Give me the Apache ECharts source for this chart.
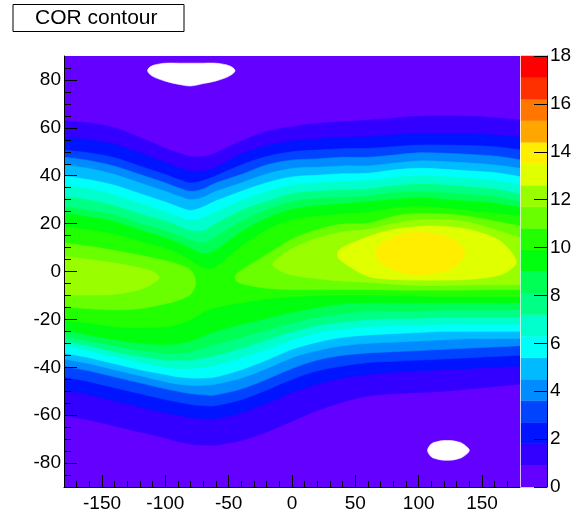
<!DOCTYPE html>
<html>
<head>
<meta charset="utf-8">
<title>COR contour</title>
<script src="https://cdn.jsdelivr.net/npm/echarts@6/dist/echarts.min.js"></script>
<style>
  html, body { margin: 0; padding: 0; background: #fff; }
  #chart { width: 580px; height: 517px; }
</style>
</head>
<body>
<div id="chart"></div>
<script>
// contour levels (20 bands from 0 to 18)
const zLevels = [0, 0.9, 1.8, 2.7, 3.6, 4.5, 5.4, 6.3, 7.2, 8.1, 9, 9.9, 10.8, 11.7, 12.6, 13.5, 14.4, 15.3, 16.2, 17.1, 18];
const bandColors = ['#6300ff', '#3300ff', '#0014ff', '#0044ff', '#008bff', '#00bbff', '#00fffb', '#00ffcc', '#00ff85', '#00ff55',
  '#00ff0e', '#22ff00', '#69ff00', '#99ff00', '#e0ff00', '#ffee00', '#ffa700', '#ff7700', '#ff3000', '#ff0000'];

// tick labels
const xMajorTicks = [-150, -100, -50, 0, 50, 100, 150];
const xMinorTicks = [-170, -160, -150, -140, -130, -120, -110, -100, -90, -80, -70, -60, -50, -40, -30, -20, -10, 0,
  10, 20, 30, 40, 50, 60, 70, 80, 90, 100, 110, 120, 130, 140, 150, 160, 170];
const yMajorTicks = [-80, -60, -40, -20, 0, 20, 40, 60, 80];
const yMinorTicks = [-85, -80, -75, -70, -65, -60, -55, -50, -45, -40, -35, -30, -25, -20, -15, -10, -5, 0,
  5, 10, 15, 20, 25, 30, 35, 40, 45, 50, 55, 60, 65, 70, 75, 80, 85];

// contour lines: levels 1..11 run across the whole x range
const xCols = [-180, -160, -140, -120, -100, -90, -80, -70, -60, -40, -20, 0, 20, 40, 60, 80, 100, 120, 140, 160, 180];
const upperEdge = [
  [63, 62, 60, 56, 51.5, 49.5, 48, 48, 49.5, 54.5, 58.5, 60.5, 61.8, 62.5, 63.2, 64, 64.8, 64.9, 64.8, 64.2, 63.2],
  [56, 55, 53, 49.5, 45.5, 43.5, 42, 42, 43.5, 49, 52.5, 54.5, 55.3, 56, 56.2, 57, 57.7, 57.6, 57.4, 57, 56],
  [50.7, 49.5, 47.5, 44, 40.5, 38.5, 37, 38, 40, 44.5, 48, 50, 50.7, 51.3, 51.4, 52.1, 52.8, 52.8, 52.6, 52.1, 50.8],
  [47.7, 46.3, 44, 40.5, 37, 35, 33.5, 34.5, 37, 40.5, 44.5, 46.5, 47, 47.7, 47.7, 48.6, 49.6, 49.4, 48.9, 48.2, 46.6],
  [44.5, 43, 40.5, 37, 33.5, 31.5, 30, 31, 33.5, 37, 40.7, 43, 43.5, 44.1, 44.1, 45.2, 46.2, 45.9, 45.3, 44.5, 43.1],
  [39.9, 38.3, 36, 32.5, 29, 27, 25.5, 27, 29.5, 33.5, 37.1, 39.5, 40.2, 40.8, 41, 42.4, 43.1, 42.7, 42, 41.3, 39.6],
  [36.1, 34.5, 32, 28.5, 25, 23, 21.5, 22.5, 25, 29.5, 33.3, 36, 37, 37.6, 38, 39.2, 39.9, 39.6, 38.8, 37.9, 36.1],
  [31.3, 29.8, 27.5, 24, 21, 19, 17, 17, 20, 25.5, 29.2, 32.5, 33.5, 34, 34.4, 35.7, 36.5, 36.1, 35.3, 34.4, 32.4],
  [27, 25.5, 23.5, 20, 17, 15, 13, 12, 14.5, 21, 25.7, 29.2, 30.5, 31, 31.5, 32.9, 33.3, 32.9, 32.1, 31.3, 29.2],
  [24.4, 22.8, 20.8, 17.3, 14, 12, 9.5, 7.5, 9, 16.5, 22.2, 26, 27.5, 28.2, 29.2, 30.1, 30.8, 30.1, 29.3, 28.5, 26.8],
  [18.7, 17.2, 15.5, 12.5, 9.5, 7.5, 4.5, 1.5, 2, 10.4, 17.3, 21.5, 23, 24, 24.6, 26.4, 27.1, 26.4, 25.4, 24.3, 22.9]
];
const lowerEdge = [
  [-60, -62, -64.5, -67, -69.5, -71, -72, -72.5, -72.5, -70.5, -67, -62.5, -58, -54.5, -52, -51, -50.5, -50, -49, -48, -47],
  [-49.5, -51.5, -54, -56.5, -59, -60, -61, -61.5, -61.5, -59, -55, -50.5, -47, -44.5, -43, -42, -41.5, -41, -40.5, -40, -39.5],
  [-44, -46, -48.5, -51, -53.5, -54.5, -55.5, -56, -56, -53.5, -49.5, -45, -41.5, -39.5, -38, -37.5, -37, -36.5, -36, -35.5, -35],
  [-39.5, -41.5, -44, -46.5, -49, -50, -51, -51.5, -51.5, -49, -45, -40.5, -37, -35, -34, -33.5, -33, -32.5, -32, -31.5, -31],
  [-36.5, -38.5, -41, -43.5, -46, -47, -47.5, -47.5, -47, -44.5, -40.5, -36, -33, -31, -30, -29.5, -29, -28.5, -28, -28, -28],
  [-34, -36, -38.5, -41, -43, -44, -44.5, -44.5, -44, -41, -37, -32.5, -29.5, -27.5, -26.5, -26, -25.5, -25, -25, -25, -25],
  [-31, -33, -35.5, -38, -40, -40.5, -40.5, -40, -39, -36, -32.5, -28.5, -25.5, -24, -23, -22.5, -22.5, -22, -22, -22, -22],
  [-29, -31, -33.5, -35.5, -37, -37, -37, -36, -35, -32, -28.5, -25, -22.5, -21, -20, -19.5, -19.5, -19, -19, -19, -19],
  [-27, -29, -31, -33, -34, -34, -33.5, -32, -30.5, -27.5, -24.5, -21.5, -19, -17.5, -16.5, -16.5, -16.5, -16, -16, -16, -16],
  [-24.5, -26.5, -28.5, -30, -30.5, -30, -29, -27, -25, -22, -19.5, -17, -15, -13.5, -13, -13, -13, -13, -13, -13, -13],
  [-20.3, -21.5, -23, -23.5, -23, -22, -20, -17, -15, -13, -11.5, -10.5, -10, -9.8, -9.8, -10, -10.2, -10.5, -10.5, -10.5, -10.5]
];

// closed regions of the higher levels
const west12X = [-180, -160, -140, -120, -100, -90, -80, -76];
const west12Top = [11.9, 10.5, 8.8, 6.8, 4.5, 3, 0.5, -4.5];
const west12Bottom = [-14.7, -15.5, -16, -15.5, -13.5, -12, -9.5, -4.5];
const east12X = [-45, -40, -20, 0, 20, 40, 60, 80, 100, 120, 140, 160, 180];
const east12Top = [-2.5, 0.5, 7, 13.5, 17.5, 19.8, 20.1, 23, 24.3, 24, 23, 21, 19];
const east12Bottom = [-2.5, -5, -7, -7.5, -7.5, -7.5, -7.5, -7.7, -7.8, -7.8, -7.7, -7.5, -7.5];
const west13X = [-180, -160, -140, -120, -110, -105];
const west13Top = [6.2, 5, 3.5, 1.5, 0, -2.5];
const west13Bottom = [-9.8, -9.8, -9.5, -7.5, -5, -2.5];
const east13X = [-15, -10, 0, 20, 40, 60, 80, 100, 120, 140, 160, 180];
const east13Top = [3, 6, 9.5, 14, 16.5, 17.5, 20, 21.6, 21.6, 20.5, 17.5, 14];
const east13Bottom = [3, 0.5, -1.5, -3, -4, -4.5, -5.3, -5.8, -5.8, -5.6, -5.5, -5.5];
const peak14X = [36, 40, 60, 80, 100, 120, 140, 160, 170, 177];
const peak14Top = [7, 10, 14.5, 17.5, 18.8, 18.8, 17.5, 14, 10, 4];
const peak14Bottom = [7, 4, -2, -3.3, -3.6, -3.6, -3.3, -2, 0, 4];
const peak15X = [66, 70, 80, 90, 100, 110, 120, 130, 137];
const peak15Top = [7.5, 11.5, 14.2, 15.9, 16.5, 16, 14.8, 12.5, 7.5];
const peak15Bottom = [7.5, 3.5, 0.8, -0.9, -1.5, -1, 0.2, 2.5, 7.5];

// areas below 0 (left blank)
const northHoleX = [-114, -110, -100, -90, -80, -70, -60, -50, -45];
const northHoleTop = [83.9, 86, 87, 87, 87, 87, 87, 86, 83.9];
const northHoleBottom = [83.9, 81.5, 79.5, 78.2, 77.5, 78.5, 79.6, 81.5, 83.9];
const southHoleX = [107, 110, 115, 120, 125, 130, 135, 140];
const southHoleTop = [-74.7, -72, -71, -70.6, -70.6, -71, -72, -74.7];
const southHoleBottom = [-74.7, -77.4, -78.4, -78.8, -78.8, -78.4, -77.4, -74.7];

const regions = [];
upperEdge.forEach((top, i) => {
  regions.push({ color: bandColors[i + 1], x: xCols, top: top, bottom: lowerEdge[i] });
});
regions.push({ color: bandColors[12], x: west12X, top: west12Top, bottom: west12Bottom });
regions.push({ color: bandColors[12], x: east12X, top: east12Top, bottom: east12Bottom });
regions.push({ color: bandColors[13], x: west13X, top: west13Top, bottom: west13Bottom });
regions.push({ color: bandColors[13], x: east13X, top: east13Top, bottom: east13Bottom });
regions.push({ color: bandColors[14], x: peak14X, top: peak14Top, bottom: peak14Bottom });
regions.push({ color: bandColors[15], x: peak15X, top: peak15Top, bottom: peak15Bottom });
regions.push({ color: '#ffffff', x: northHoleX, top: northHoleTop, bottom: northHoleBottom });
regions.push({ color: '#ffffff', x: southHoleX, top: southHoleTop, bottom: southHoleBottom });

const font = 'Liberation Sans, Arial, Helvetica, sans-serif';
const black = { color: '#000', width: 1 };

// catmull-rom through pixel points, as svg curve commands
function curveThrough(pts, closed) {
  const n = pts.length;
  const segs = closed ? n : n - 1;
  let d = '';
  for (let i = 0; i < segs; i++) {
    const p0 = closed ? pts[(i - 1 + n) % n] : pts[Math.max(i - 1, 0)];
    const p1 = pts[i];
    const p2 = pts[(i + 1) % n];
    const p3 = closed ? pts[(i + 2) % n] : pts[Math.min(i + 2, n - 1)];
    const c1 = [p1[0] + (p2[0] - p0[0]) / 6, p1[1] + (p2[1] - p0[1]) / 6];
    const c2 = [p2[0] - (p3[0] - p1[0]) / 6, p2[1] - (p3[1] - p1[1]) / 6];
    d += ' C' + c1.join(',') + ' ' + c2.join(',') + ' ' + p2.join(',');
  }
  return d;
}

function regionPath(r, api) {
  const loop = [];
  r.x.forEach((x, i) => loop.push([x, r.top[i]]));
  for (let i = r.x.length - 1; i >= 0; i--) loop.push([r.x[i], r.bottom[i]]);
  // drop the doubled tip points of closed islands
  const pts = loop.filter((p, i) => {
    const q = loop[(i + 1) % loop.length];
    return !(p[0] === q[0] && p[1] === q[1]);
  });
  const n = pts.length;
  const px = pts.map(p => api.coord(p));
  // segments lying on the left/right frame stay straight
  const onFrame = i => {
    const a = pts[i], b = pts[(i + 1) % n];
    return a[0] === b[0] && Math.abs(a[0]) === 180;
  };
  let first = -1;
  for (let i = 0; i < n; i++) if (onFrame(i)) { first = i; break; }
  if (first < 0) return 'M' + px[0].join(',') + curveThrough(px, true) + ' Z';

  const start = (first + 1) % n;
  let d = 'M' + px[start].join(',');
  let chain = [px[start]];
  for (let k = 1; k < n; k++) {
    const prev = (start + k - 1) % n;
    const cur = (start + k) % n;
    if (onFrame(prev)) {
      d += curveThrough(chain, false) + ' L' + px[cur].join(',');
      chain = [px[cur]];
    } else {
      chain.push(px[cur]);
    }
  }
  return d + curveThrough(chain, false) + ' Z';
}

function renderRegion(params, api) {
  const r = regions[params.dataIndex];
  return {
    type: 'path',
    shape: { pathData: regionPath(r, api) },
    style: { fill: r.color, stroke: r.color, lineWidth: 0.6 }
  };
}

function renderBand(params, api) {
  const i = params.dataIndex;
  const p0 = api.coord([0, zLevels[i]]);
  const p1 = api.coord([1, zLevels[i + 1]]);
  return {
    type: 'rect',
    shape: { x: p0[0], y: p1[1], width: p1[0] - p0[0], height: p0[1] - p1[1] },
    style: { fill: bandColors[i], stroke: bandColors[i], lineWidth: 0.5 }
  };
}

const myChart = echarts.init(document.getElementById('chart'), null, { renderer: 'canvas' });
myChart.setOption({
  animation: false,
  backgroundColor: '#fff',
  textStyle: { fontFamily: font },
  grid: [
    { left: 64, right: 60, top: 56, bottom: 30, show: true, backgroundColor: bandColors[0], borderWidth: 0, outerBoundsMode: 'none' },
    { left: 521, width: 26, top: 56, bottom: 30, show: false, outerBoundsMode: 'none' }
  ],
  graphic: [
    {
      type: 'rect', left: 12.5, top: 4, z: 20,
      shape: { width: 171, height: 27 },
      style: { fill: '#fff', stroke: '#000', lineWidth: 1 }
    },
    {
      type: 'text', x: 35, y: 18.5, z: 21,
      style: { text: 'COR contour', fill: '#000', font: '21px ' + font, textVerticalAlign: 'middle' }
    }
  ],
  xAxis: [
    {
      gridIndex: 0, type: 'value', min: -180, max: 180, position: 'bottom', z: 10,
      axisLine: { onZero: false, lineStyle: black },
      axisTick: { inside: true, length: 6, customValues: xMinorTicks, lineStyle: black },
      axisLabel: { customValues: xMajorTicks, color: '#000', fontSize: 19, margin: 7, fontFamily: font },
      splitLine: { show: false }
    },
    {
      gridIndex: 0, type: 'value', min: -180, max: 180, position: 'bottom', z: 10,
      axisLine: { show: false, onZero: false },
      axisTick: { inside: true, length: 12, customValues: xMajorTicks, lineStyle: black },
      axisLabel: { show: false },
      splitLine: { show: false }
    },
    { gridIndex: 1, type: 'value', min: 0, max: 1, show: false }
  ],
  yAxis: [
    {
      gridIndex: 0, type: 'value', min: -90, max: 90, position: 'left', z: 10,
      axisLine: { onZero: false, lineStyle: black },
      axisTick: { inside: true, length: 7, customValues: yMinorTicks, lineStyle: black },
      axisLabel: { customValues: yMajorTicks, color: '#000', fontSize: 19, margin: 3, fontFamily: font },
      splitLine: { show: false }
    },
    {
      gridIndex: 0, type: 'value', min: -90, max: 90, position: 'left', z: 10,
      axisLine: { show: false, onZero: false },
      axisTick: { inside: true, length: 13, customValues: yMajorTicks, lineStyle: black },
      axisLabel: { show: false },
      splitLine: { show: false }
    },
    {
      gridIndex: 1, type: 'value', min: 0, max: 18, interval: 2, position: 'right', z: 10,
      axisLine: { onZero: false, lineStyle: black },
      axisTick: { inside: true, length: 13, lineStyle: black },
      axisLabel: { color: '#000', fontSize: 19, margin: 3, fontFamily: font },
      splitLine: { show: false }
    }
  ],
  series: [
    {
      type: 'custom',
      xAxisIndex: 0, yAxisIndex: 0,
      clip: true, silent: true,
      renderItem: renderRegion,
      data: regions.map(r => [r.x[0], r.top[0]])
    },
    {
      type: 'custom',
      xAxisIndex: 2, yAxisIndex: 2,
      silent: true,
      renderItem: renderBand,
      data: bandColors.map((c, i) => [0.5, zLevels[i]])
    }
  ]
});
myChart.resize();
</script>
</body>
</html>
